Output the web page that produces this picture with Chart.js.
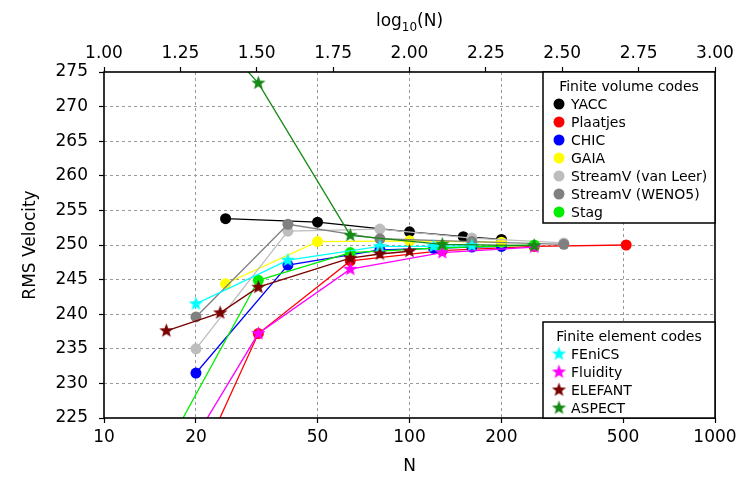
<!DOCTYPE html>
<html><head><meta charset="utf-8">
<script src="https://cdn.jsdelivr.net/npm/chart.js@4.4.0/dist/chart.umd.min.js"></script>
<style>html,body{margin:0;padding:0;background:#fff;}canvas{display:block;}</style>
</head><body>
<canvas id="c" width="749" height="479"></canvas>
<script>
// ---- data ----
const xTickValues = [10, 20, 50, 100, 200, 500, 1000];
const yaccN = [25, 50, 100, 150, 200];            const yaccV = [253.8, 253.3, 251.9, 251.2, 250.8];
const plaatjesN = [16, 32, 64, 128, 256, 512];    const plaatjesV = [208.0, 237.2, 247.7, 249.2, 249.8, 250.0];
const chicN = [20, 40, 80, 120, 160, 200];        const chicV = [231.5, 247.1, 249.3, 249.5, 249.7, 249.8];
const gaiaN = [25, 50, 100, 200];                 const gaiaV = [244.4, 250.5, 250.6, 250.4];
const vanLeerN = [20, 40, 80, 160, 320];          const vanLeerV = [235.0, 252.0, 252.3, 251.0, 250.3];
const weno5N = [20, 40, 80, 160, 320];            const weno5V = [239.6, 253.0, 250.9, 250.5, 250.1];
const stagN = [16, 32, 64, 128, 256];             const stagV = [220.6, 244.9, 248.9, 249.6, 250.0];
const fenicsN = [20, 40, 80, 120, 160];           const fenicsV = [241.5, 247.8, 249.8, 249.8, 249.9];
const fluidityN = [16, 32, 64, 128, 256];         const fluidityV = [215.2, 237.2, 246.5, 248.9, 249.7];
const elefantN = [16, 24, 32, 64, 80, 100];       const elefantV = [237.6, 240.2, 243.9, 248.1, 248.7, 249.1];
const aspectN = [16, 32, 64, 128, 256];           const aspectV = [288.0, 273.4, 251.4, 250.1, 249.9];

const fvSeries = [
  ['YACC', yaccN, yaccV, '#000000'],
  ['Plaatjes', plaatjesN, plaatjesV, '#ff0000'],
  ['CHIC', chicN, chicV, '#0000ff'],
  ['GAIA', gaiaN, gaiaV, '#ffff00'],
  ['StreamV (van Leer)', vanLeerN, vanLeerV, '#bdbdbd'],
  ['StreamV (WENO5)', weno5N, weno5V, '#808080'],
  ['Stag', stagN, stagV, '#00ee00']
];
const feSeries = [
  ['FEniCS', fenicsN, fenicsV, '#00ffff'],
  ['Fluidity', fluidityN, fluidityV, '#ff00ff'],
  ['ELEFANT', elefantN, elefantV, '#7a0000'],
  ['ASPECT', aspectN, aspectV, '#158a15']
];

const FONT = 'DejaVu Sans';

function makeStar(color, R) {
  const s = Math.ceil(2 * R + 2);
  const c = document.createElement('canvas');
  c.width = s; c.height = s;
  const g = c.getContext('2d');
  const cx = s / 2, cy = s / 2, r = R * 0.42;
  g.beginPath();
  for (let i = 0; i < 10; i++) {
    const rad = i % 2 === 0 ? R : r;
    const ang = -Math.PI / 2 + i * Math.PI / 5;
    const px = cx + rad * Math.cos(ang), py = cy + rad * Math.sin(ang);
    if (i === 0) g.moveTo(px, py); else g.lineTo(px, py);
  }
  g.closePath();
  g.fillStyle = color;
  g.fill();
  return c;
}

const datasets = [];
const total = fvSeries.length + feSeries.length;
fvSeries.forEach((s, i) => {
  datasets.push({
    label: s[0], group: 'fv', color: s[3],
    data: s[1].map((n, k) => ({x: n, y: s[2][k]})),
    borderColor: s[3], backgroundColor: s[3], borderWidth: 1.3,
    pointStyle: 'circle', pointRadius: 5.5, pointBorderWidth: 0,
    pointBackgroundColor: s[3], showLine: true, order: total - i
  });
});
feSeries.forEach((s, i) => {
  const img = makeStar(s[3], 7.5);
  datasets.push({
    label: s[0], group: 'fe', color: s[3], starImg: img,
    data: s[1].map((n, k) => ({x: n, y: s[2][k]})),
    borderColor: s[3], backgroundColor: s[3], borderWidth: 1.3,
    pointStyle: img, pointRadius: 7, showLine: true,
    order: total - fvSeries.length - i
  });
});

const framePlugin = {
  id: 'frame',
  afterDatasetsDraw(chart) {
    const {ctx, chartArea: a} = chart;
    ctx.save();
    ctx.strokeStyle = '#000'; ctx.lineWidth = 1.6;
    ctx.strokeRect(a.left, a.top, a.right - a.left, a.bottom - a.top);
    ctx.restore();
  }
};

function drawLegendBox(ctx, x0, y0, x1, y1, title, items) {
  ctx.save();
  ctx.fillStyle = '#fff';
  ctx.fillRect(x0, y0, x1 - x0, y1 - y0);
  ctx.strokeStyle = '#000'; ctx.lineWidth = 1.5;
  ctx.strokeRect(x0, y0, x1 - x0, y1 - y0);
  ctx.fillStyle = '#000';
  ctx.font = '14px "' + FONT + '"';
  ctx.textBaseline = 'middle';
  ctx.textAlign = 'center';
  ctx.fillText(title, (x0 + x1) / 2, y0 + 15);
  ctx.textAlign = 'left';
  items.forEach((ds, i) => {
    const cy = y0 + 32 + i * 18;
    const mx = x0 + 16;
    if (ds.starImg) {
      const im = ds.starImg;
      ctx.drawImage(im, mx - im.width / 2, cy - im.height / 2);
    } else {
      ctx.beginPath();
      ctx.arc(mx, cy, 5.5, 0, Math.PI * 2);
      ctx.fillStyle = ds.color; ctx.fill();
    }
    ctx.fillStyle = '#000';
    ctx.fillText(ds.label, x0 + 28, cy + 1);
  });
  ctx.restore();
}

const legendPlugin = {
  id: 'legendBoxes',
  afterDatasetsDraw(chart) {
    const {ctx, chartArea: a} = chart;
    const ds = chart.data.datasets;
    drawLegendBox(ctx, a.right - 172, a.top, a.right, a.top + 151, 'Finite volume codes', ds.filter(d => d.group === 'fv'));
    drawLegendBox(ctx, a.right - 172, a.bottom - 96, a.right, a.bottom, 'Finite element codes', ds.filter(d => d.group === 'fe'));
  }
};

const topTitlePlugin = {
  id: 'topTitle',
  afterDraw(chart) {
    const {ctx, chartArea: a} = chart;
    ctx.save();
    ctx.fillStyle = '#000';
    ctx.textBaseline = 'alphabetic';
    ctx.textAlign = 'left';
    const big = '17px "' + FONT + '"', small = '12px "' + FONT + '"';
    ctx.font = big; const w1 = ctx.measureText('log').width, w3 = ctx.measureText('(N)').width;
    ctx.font = small; const w2 = ctx.measureText('10').width;
    let x = (a.left + a.right) / 2 - (w1 + w2 + w3) / 2;
    const base = 26;
    ctx.font = big; ctx.fillText('log', x, base); x += w1;
    ctx.font = small; ctx.fillText('10', x, base + 5); x += w2;
    ctx.font = big; ctx.fillText('(N)', x, base);
    ctx.restore();
  }
};

const tickFont = {family: FONT, size: 17};
const gridColor = (edgeVals) => (ctx) => (ctx.tick && edgeVals.includes(ctx.tick.value)) ? 'rgba(0,0,0,0)' : '#9a9a9a';

new Chart(document.getElementById('c'), {
  type: 'scatter',
  data: {datasets},
  options: {
    responsive: false, animation: false, devicePixelRatio: 1,
    layout: {padding: {left: 0, right: 34, top: 0, bottom: 0}},
    plugins: {legend: {display: false}, tooltip: {enabled: false}},
    scales: {
      x: {
        type: 'logarithmic', position: 'bottom', min: 10, max: 1000,
        afterBuildTicks: s => { s.ticks = xTickValues.map(v => ({value: v})); },
        afterFit: s => { s.height = 61; },
        ticks: {callback: v => String(v), font: tickFont, color: '#000', padding: 4, autoSkip: false, maxRotation: 0},
        grid: {color: gridColor([10, 1000]), lineWidth: 1, tickLength: 5, tickColor: '#000', tickWidth: 1.2, tickBorderDash: []},
        border: {display: false, dash: [3, 3]},
        title: {display: true, text: 'N', font: {family: FONT, size: 17}, color: '#000', padding: {top: 0, bottom: 2}}
      },
      x2: {
        type: 'linear', position: 'top', min: 1, max: 3,
        afterFit: s => { s.height = 72; },
        ticks: {stepSize: 0.25, callback: v => Number(v).toFixed(2), font: tickFont, color: '#000', padding: 3, autoSkip: false, maxRotation: 0},
        grid: {drawOnChartArea: false, tickLength: 5, tickColor: '#000', tickWidth: 1.2},
        border: {display: false}
      },
      y: {
        type: 'linear', position: 'left', min: 225, max: 275,
        afterFit: s => { s.width = 104; },
        ticks: {stepSize: 5, font: tickFont, color: '#000', padding: 11},
        grid: {color: gridColor([225, 275]), lineWidth: 1, tickLength: 5, tickColor: '#000', tickWidth: 1.2, tickBorderDash: []},
        border: {display: false, dash: [3, 3]},
        title: {display: true, text: 'RMS Velocity', font: {family: FONT, size: 17}, color: '#000', padding: {top: 20, bottom: 0}}
      }
    }
  },
  plugins: [framePlugin, legendPlugin, topTitlePlugin]
});
</script>
</body></html>
